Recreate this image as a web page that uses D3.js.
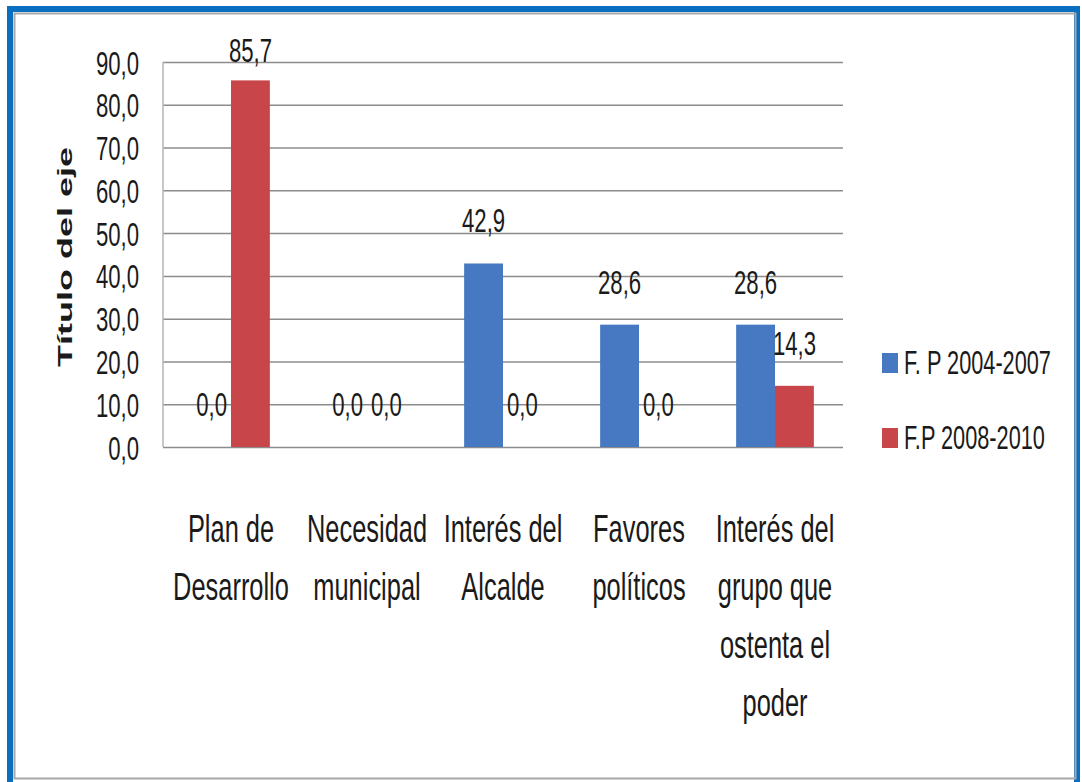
<!DOCTYPE html>
<html>
<head>
<meta charset="utf-8">
<script src="https://cdn.jsdelivr.net/npm/d3@7"></script>
<style>
    html, body { margin: 0; padding: 0; background: #fff; }
    svg { display: block; }
    .narrow { font-family: "Liberation Sans", Arial, sans-serif; fill: #1a1a1a; }
</style>
</head>
<body>
<div id="chart"></div>
<script>
// data
const categoryLines = [
    ['Plan de', 'Desarrollo'],
    ['Necesidad', 'municipal'],
    ['Interés del', 'Alcalde'],
    ['Favores', 'políticos'],
    ['Interés del', 'grupo que', 'ostenta el', 'poder']
];
const seriesNames = ['F. P 2004-2007', 'F.P 2008-2010'];
const fp2004 = [0.0, 0.0, 42.9, 28.6, 28.6];
const fp2008 = [85.7, 0.0, 0.0, 0.0, 14.3];
const yTicks = [0, 10, 20, 30, 40, 50, 60, 70, 80, 90];
const axisTitle = 'Título del eje';

const colors = ['#4679c2', '#c8464a'];
// text in the picture is drawn tall and narrow
const sx = 0.82, sy = 1.24;

const W = 1082, H = 782;
const plot = { left: 163, right: 843, top: 62, bottom: 447 };

const locale = d3.formatLocale({ decimal: ',', thousands: '.', grouping: [3], currency: ['', ''] });
const fmt = locale.format('.1f');

const svg = d3.select('#chart')
    .append('svg')
    .attr('width', W)
    .attr('height', H);

// frame
svg.append('rect')
    .attr('x', 10).attr('y', 9)
    .attr('width', W - 15).attr('height', 820)
    .attr('fill', 'none')
    .attr('stroke', '#0b6fc1')
    .attr('stroke-width', 6);
svg.append('rect')
    .attr('x', 14.5).attr('y', 13.5)
    .attr('width', 1061).attr('height', 765)
    .attr('fill', 'none')
    .attr('stroke', '#a8a8a8')
    .attr('stroke-width', 2);

// scales
const x = d3.scaleBand()
    .domain(d3.range(categoryLines.length))
    .range([plot.left, plot.right])
    .paddingInner(0.4286)
    .paddingOuter(0.2143);
const xSub = d3.scaleBand()
    .domain([0, 1])
    .range([0, x.bandwidth()]);
const y = d3.scaleLinear()
    .domain([0, 90])
    .range([plot.bottom, plot.top]);

// gridlines
svg.append('g')
    .attr('class', 'grid')
    .attr('transform', `translate(${plot.left}, 0)`)
    .call(d3.axisLeft(y).tickValues(yTicks).tickSize(-(plot.right - plot.left)).tickFormat(''))
    .call(g => g.select('.domain').remove())
    .call(g => g.selectAll('line').attr('stroke', '#8c8c8c').attr('stroke-width', 1.5));

// vertical axis line
svg.append('line')
    .attr('x1', plot.left).attr('x2', plot.left)
    .attr('y1', plot.top).attr('y2', plot.bottom)
    .attr('stroke', '#b5b5b5')
    .attr('stroke-width', 1.5);

// y tick labels
svg.append('g')
    .attr('transform', `translate(${plot.left}, 0)`)
    .call(d3.axisLeft(y).tickValues(yTicks).tickSize(0).tickPadding(24 / sx).tickFormat(fmt))
    .call(g => g.select('.domain').remove())
    .call(g => g.selectAll('text')
        .attr('class', 'narrow')
        .attr('font-size', 27)
        .attr('dy', '0.36em')
        .attr('transform', `scale(${sx}, ${sy})`));

// bars
const series = [fp2004, fp2008];
series.forEach((vals, s) => {
    svg.append('g')
        .selectAll('rect')
        .data(vals)
        .join('rect')
        .attr('x', (d, i) => x(i) + xSub(s))
        .attr('y', d => y(d))
        .attr('width', xSub.bandwidth())
        .attr('height', d => y(0) - y(d))
        .attr('fill', colors[s]);
});

// value labels
series.forEach((vals, s) => {
    svg.append('g')
        .selectAll('g')
        .data(vals)
        .join('g')
        .attr('transform', (d, i) => {
            const cx = x(i) + xSub(s) + xSub.bandwidth() / 2;
            const by = Math.max(y(d) - 31, plot.top);
            return `translate(${cx}, ${by}) scale(${sx}, ${sy})`;
        })
        .append('text')
        .attr('class', 'narrow')
        .attr('font-size', 27)
        .attr('text-anchor', 'middle')
        .text(d => fmt(d));
});

// category labels
const cats = svg.append('g')
    .selectAll('g')
    .data(categoryLines)
    .join('g');
cats.each(function (lines, i) {
    d3.select(this)
        .selectAll('g')
        .data(lines)
        .join('g')
        .attr('transform', (d, j) => `translate(${x(i) + x.bandwidth() / 2}, ${542 + j * 58}) scale(${sx}, ${sy})`)
        .append('text')
        .attr('class', 'narrow')
        .attr('font-size', 31)
        .attr('text-anchor', 'middle')
        .text(d => d);
});

// axis title
svg.append('text')
    .attr('transform', 'translate(72, 257) rotate(-90)')
    .attr('text-anchor', 'middle')
    .attr('font-family', '"Liberation Sans", Arial, sans-serif')
    .attr('font-weight', 'bold')
    .attr('font-size', 21)
    .attr('textLength', 220)
    .attr('lengthAdjust', 'spacingAndGlyphs')
    .attr('fill', '#1a1a1a')
    .text(axisTitle);

// legend
const legend = svg.append('g')
    .selectAll('g')
    .data(seriesNames)
    .join('g')
    .attr('transform', (d, i) => `translate(882, ${373 + i * 75})`);
legend.append('rect')
    .attr('x', 0).attr('y', -20)
    .attr('width', 16).attr('height', 20)
    .attr('fill', (d, i) => colors[i]);
legend.append('g')
    .attr('transform', `translate(22, 1) scale(${sx}, ${sy})`)
    .append('text')
    .attr('class', 'narrow')
    .attr('font-size', 26.5)
    .text(d => d);
</script>
</body>
</html>
